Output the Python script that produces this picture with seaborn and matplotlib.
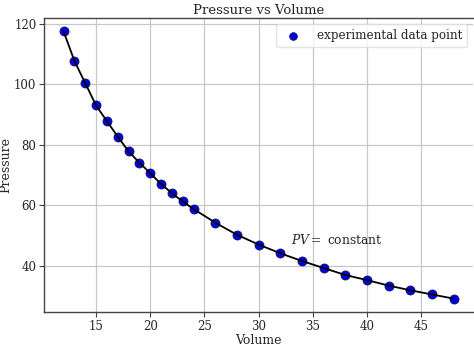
import matplotlib
matplotlib.use("Agg")
import matplotlib.pyplot as plt
import seaborn as sns
import pandas as pd

# Boyle's measurements: gas volume and the pressure needed to hold it
volume = [12, 13, 14, 15, 16, 17, 18, 19, 20, 21, 22, 23, 24,
          26, 28, 30, 32, 34, 36, 38, 40, 42, 44, 46, 48]
pressure = [117.56, 107.81, 100.44, 93.06, 87.88, 82.75, 77.88, 74.13,
            70.69, 67.06, 64.06, 61.31, 58.81, 54.31, 50.31, 47.06,
            44.19, 41.63, 39.31, 37.00, 35.31, 33.50, 31.94, 30.56, 29.19]

df = pd.DataFrame({"Volume": volume, "Pressure": pressure})

sns.set_theme(style="whitegrid")
plt.rcParams["font.family"] = ["DejaVu Serif"]
plt.rcParams["mathtext.fontset"] = "dejavuserif"

fig = plt.figure(figsize=(4.74, 3.47), dpi=100)
ax = fig.add_axes([0.093, 0.101, 0.905, 0.847])

sns.scatterplot(data=df, x="Volume", y="Pressure", ax=ax, color="#0000e0",
                s=42, edgecolor="#10106a", linewidth=0.6, zorder=3,
                label="experimental data point")
sns.lineplot(data=df, x="Volume", y="Pressure", ax=ax, color="black",
             linewidth=1.3, zorder=4, legend=False)

ax.set_title("Pressure vs Volume", fontsize=9.5, pad=3)
ax.set_xlabel("Volume", fontsize=9, labelpad=1)
ax.set_ylabel("Pressure", fontsize=9, labelpad=1)
ax.set_xticks([15, 20, 25, 30, 35, 40, 45])
ax.set_yticks([40, 60, 80, 100, 120])
ax.tick_params(axis="both", labelsize=8.5, length=3.5, width=0.8,
               color="#444444", pad=2, left=True, bottom=True)
ax.grid(True, color="#c8c8c8", linewidth=0.9)
for side in ["left", "bottom", "top"]:
    ax.spines[side].set_color("#444444")
    ax.spines[side].set_linewidth(1.0)
ax.spines["right"].set_visible(False)

ax.text(33, 48.6, r"$PV=$ constant", fontsize=8.8, va="center")

leg = ax.legend(loc="upper right", fontsize=8.6, frameon=True,
                borderaxespad=0.5, handletextpad=1.0, markerscale=0.85)
leg.get_frame().set_edgecolor("#dddddd")

fig.savefig("out.png", dpi=100)
